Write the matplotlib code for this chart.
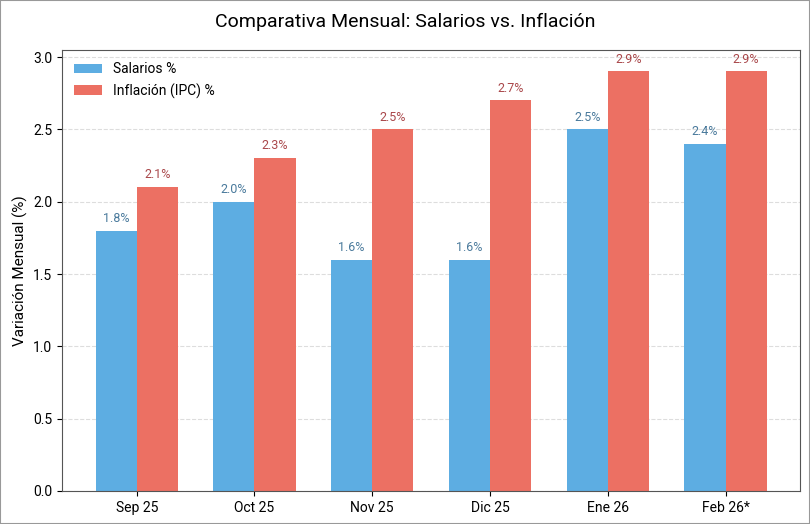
import numpy as np
import matplotlib
matplotlib.use('Agg')
from matplotlib import pyplot as plt
from matplotlib.patches import Rectangle

meses = ['Sep 25', 'Oct 25', 'Nov 25', 'Dic 25', 'Ene 26', 'Feb 26*']
salarios = [1.8, 2.0, 1.6, 1.6, 2.5, 2.4]
inflacion = [2.1, 2.3, 2.5, 2.7, 2.9, 2.9]

plt.rcParams['font.family'] = ['Roboto', 'DejaVu Sans']

fig = plt.figure(figsize=(8.1, 5.24), dpi=100)
ax = fig.add_axes([0.0765, 0.063, 0.9115, 0.842])

x = np.arange(len(meses))
w = 0.35
b1 = ax.bar(x - w / 2, salarios, w, color='#5DADE2', label='Salarios %')
b2 = ax.bar(x + w / 2, inflacion, w, color='#EC7063', label='Inflación (IPC) %')

for rect, v in zip(b1, salarios):
    ax.text(rect.get_x() + rect.get_width() / 2, v + 0.04, f'{v:.1f}%',
            ha='center', va='bottom', fontsize=9, color='#4A7A9C')
for rect, v in zip(b2, inflacion):
    ax.text(rect.get_x() + rect.get_width() / 2, v + 0.04, f'{v:.1f}%',
            ha='center', va='bottom', fontsize=9, color='#A9474A')

ax.set_xticks(x)
ax.set_xticklabels(meses, fontsize=10)
ax.set_ylim(0, 3.05)
ax.set_yticks([0.0, 0.5, 1.0, 1.5, 2.0, 2.5, 3.0])
ax.set_yticklabels(['0.0', '0.5', '1.0', '1.5', '2.0', '2.5', '3.0'], fontsize=10)
ax.set_ylabel('Variación Mensual (%)', fontsize=11)
ax.yaxis.grid(True, linestyle='--', color='#dddddd', linewidth=0.8)
ax.set_axisbelow(True)
for s in ax.spines.values():
    s.set_color('#555555')

ax.legend(loc='upper left', frameon=False, fontsize=10)
fig.suptitle('Comparativa Mensual: Salarios vs. Inflación', fontsize=14, y=0.975)

fig.patches.append(Rectangle((0, 0), 1, 1, transform=fig.transFigure,
                             fill=False, edgecolor='#999999', linewidth=1.5))

fig.savefig('out.png', dpi=100)
